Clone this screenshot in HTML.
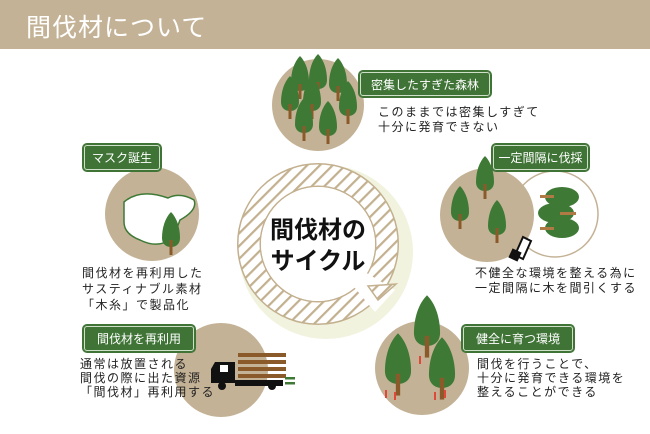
<!DOCTYPE html>
<html><head><meta charset="utf-8"><style>
body{margin:0;width:650px;height:434px;background:#fff;overflow:hidden;font-family:"Liberation Sans","Noto Sans CJK JP",sans-serif;}
.hdr{position:absolute;left:0;top:0;width:650px;height:49px;background:#c4b296;}
.hdr span{position:absolute;left:26px;top:8px;color:#fff;font-size:25px;letter-spacing:1px;}
.lbl{position:absolute;background:#3f7436;color:#fff;font-size:12px;border-radius:5px;box-shadow:0 0 0 1px #3f7436 inset,0 0 0 2px #cfe0c8 inset;display:flex;align-items:center;justify-content:center;border:1px solid #3f7436;box-sizing:border-box;}
.t{position:absolute;font-size:12px;line-height:15px;color:#222;letter-spacing:1.5px;white-space:nowrap;}
.c{position:absolute;left:250px;top:215px;width:136px;text-align:center;font-weight:bold;font-size:24px;line-height:31px;color:#111;}
</style></head><body>
<div class="hdr"><span>間伐材について</span></div>
<svg width="650" height="434" style="position:absolute;left:0;top:0">
<defs>
<pattern id="h" width="9" height="9" patternUnits="userSpaceOnUse" patternTransform="rotate(-45)"><rect width="9" height="9" fill="#fff"/><rect width="9" height="2.2" fill="#c3b08f"/></pattern>
<g id="tr"><path d="M0 -24 C6 -18 9 -8 9 2 C9 8 5 11 0 11 C-5 11 -9 8 -9 2 C-9 -8 -6 -18 0 -24Z" fill="#3e7a35"/><rect x="-1.5" y="4" width="3" height="15" fill="#8a5a2b"/></g>
</defs>
<circle cx="326" cy="252" r="78" fill="none" stroke="#f1f3de" stroke-width="18"/>
<circle cx="318" cy="244" r="69" fill="none" stroke="#c3b08f" stroke-width="24"/>
<circle cx="318" cy="244" r="69" fill="none" stroke="url(#h)" stroke-width="21"/>
<path d="M318 244 L375 312 L395 290 Z" fill="#fff"/>
<circle cx="318" cy="244" r="57" fill="#fff"/>
<path d="M368 286 L396 284 L378 300 Z" fill="url(#h)" stroke="#c3b08f" stroke-width="1.5"/>
<circle cx="318" cy="105" r="46" fill="#c4b296"/>
<use href="#tr" x="300" y="80"/><use href="#tr" x="318" y="78"/><use href="#tr" x="338" y="82"/>
<use href="#tr" x="290" y="100"/><use href="#tr" x="312" y="100"/><use href="#tr" x="348" y="105"/>
<use href="#tr" x="304" y="122"/><use href="#tr" x="328" y="125"/>
<circle cx="152" cy="214" r="47" fill="#c4b296"/>
<path d="M124 202 Q140 188 168 198 Q180 192 194 200 Q198 210 180 220 L174 236 Q160 250 140 240 Q124 234 124 222Z" fill="#fff" stroke="#3e7a35" stroke-width="1.5"/>
<use href="#tr" x="171" y="236"/>
<circle cx="555" cy="214" r="43" fill="#fff" stroke="#c4b296" stroke-width="1.5"/>
<circle cx="487" cy="215" r="47" fill="#c4b296"/>
<use href="#tr" x="485" y="180"/><use href="#tr" x="460" y="210"/><use href="#tr" x="497" y="224"/>
<ellipse cx="562" cy="197" rx="17" ry="10" fill="#3e7a35"/><ellipse cx="556" cy="213" rx="18" ry="10" fill="#3e7a35"/><ellipse cx="562" cy="228" rx="17" ry="10" fill="#3e7a35"/>
<rect x="540" y="195" width="14" height="3" fill="#b07a44"/><rect x="560" y="212" width="16" height="3" fill="#b07a44"/><rect x="540" y="227" width="14" height="3" fill="#b07a44"/>
<path d="M515 255 l8 -18 l8 4 l-8 18Z" fill="#fff" stroke="#111" stroke-width="2"/><rect x="510" y="250" width="10" height="10" fill="#111" transform="rotate(25 515 255)"/>
<circle cx="221" cy="370" r="47" fill="#c4b296"/>
<rect x="238" y="353" width="48" height="4" fill="#8a5a2b"/><rect x="238" y="360" width="48" height="4" fill="#8a5a2b"/><rect x="238" y="367" width="48" height="4" fill="#8a5a2b"/><rect x="238" y="374" width="48" height="4" fill="#8a5a2b"/>
<path d="M215 362 h20 v21 h-24 v-14Z" fill="#111"/><rect x="220" y="365" width="8" height="7" fill="#fff"/>
<rect x="235" y="380" width="48" height="6" fill="#111"/><circle cx="222" cy="386" r="4" fill="#111"/><circle cx="272" cy="386" r="4" fill="#111"/>
<rect x="285" y="377" width="10" height="2.5" fill="#3e7a35"/><rect x="285" y="382" width="10" height="2.5" fill="#3e7a35"/>
<circle cx="422" cy="368" r="47" fill="#c4b296"/>
<g transform="translate(398 368) scale(1.45)"><use href="#tr"/></g>
<g transform="translate(427 330) scale(1.45)"><use href="#tr"/></g>
<g transform="translate(442 372) scale(1.45)"><use href="#tr"/></g>
<g fill="#e0483a"><rect x="385" y="390" width="2" height="8"/><rect x="394" y="392" width="2" height="8"/><rect x="419" y="356" width="2" height="8"/><rect x="434" y="392" width="2" height="8"/><rect x="444" y="390" width="2" height="8"/></g>
</svg>
<div class="c">間伐材の<br>サイクル</div>
<div class="lbl" style="left:358px;top:70px;width:134px;height:28px;">密集したすぎた森林</div>
<div class="t" style="left:378px;top:105px;">このままでは密集しすぎて<br>十分に発育できない</div>
<div class="lbl" style="left:82px;top:143px;width:80px;height:29px;">マスク誕生</div>
<div class="t" style="left:82px;top:265px;line-height:16px;">間伐材を再利用した<br>サスティナブル素材<br>「木糸」で製品化</div>
<div class="lbl" style="left:491px;top:143px;width:99px;height:29px;">一定間隔に伐採</div>
<div class="t" style="left:475px;top:266px;line-height:15px;">不健全な環境を整える為に<br>一定間隔に木を間引くする</div>
<div class="lbl" style="left:82px;top:324px;width:114px;height:29px;">間伐材を再利用</div>
<div class="t" style="left:80px;top:357px;line-height:14px;">通常は放置される<br>間伐の際に出た資源<br>「間伐材」再利用する</div>
<div class="lbl" style="left:461px;top:324px;width:114px;height:29px;">健全に育つ環境</div>
<div class="t" style="left:477px;top:357px;line-height:14px;">間伐を行うことで、<br>十分に発育できる環境を<br>整えることができる</div>
</body></html>
